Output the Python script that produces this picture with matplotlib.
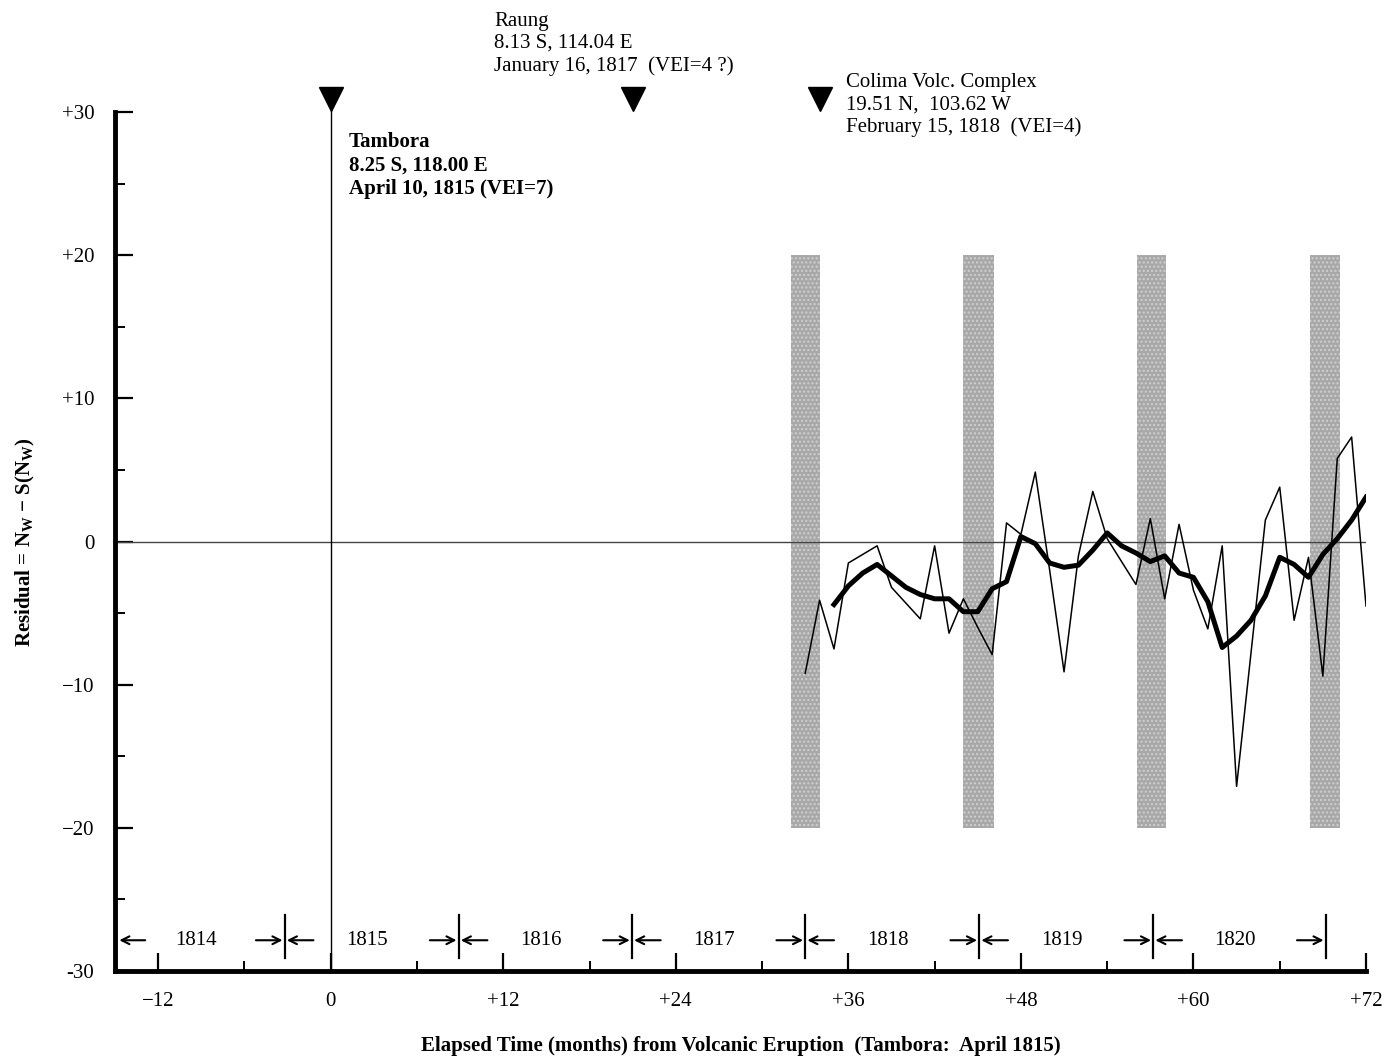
import matplotlib.pyplot as plt
from matplotlib.ticker import FixedLocator

plt.rcParams['font.family'] = ['Liberation Serif', 'DejaVu Serif']
plt.rcParams['mathtext.fontset'] = 'custom'
plt.rcParams['mathtext.rm'] = 'Liberation Serif'
plt.rcParams['mathtext.bf'] = 'Liberation Serif:bold'

# monthly residuals (thin line), months after Tambora eruption
months_raw = list(range(33, 73))
resid_raw = [-9.2, -4.1, -7.5, -1.5, -0.9, -0.3, -3.2, -4.3, -5.4, -0.3,
             -6.4, -4.0, -6.0, -7.9, 1.3, 0.5, 4.85, -2.0, -9.1, -1.0,
             3.5, 0.2, -1.4, -3.0, 1.6, -4.0, 1.2, -3.4, -6.1, -0.3,
             -17.1, -7.8, 1.5, 3.8, -5.5, -1.1, -9.4, 5.8, 7.3, -4.5]

# smoothed residuals (thick line)
months_smooth = list(range(35, 73))
resid_smooth = [-4.4, -3.1, -2.2, -1.6, -2.4, -3.2, -3.7, -4.0, -4.0, -4.9,
                -4.9, -3.3, -2.8, 0.35, -0.15, -1.5, -1.8, -1.65, -0.6, 0.6,
                -0.3, -0.8, -1.4, -1.0, -2.2, -2.5, -4.2, -7.4, -6.6, -5.5,
                -3.8, -1.1, -1.6, -2.5, -0.9, 0.2, 1.5, 3.1]

# shaded winter bands
band_start = [32.0, 44.0, 56.1, 68.1]
band_end = [34.0, 46.1, 58.1, 70.2]

# calendar year boundaries (months from eruption)
year_bounds = [-3.2, 8.9, 20.95, 33.0, 45.1, 57.2, 69.2]
year_names = ['1814', '1815', '1816', '1817', '1818', '1819', '1820']

# eruptions
erupt_month = [0.0, 21.0, 34.0]
erupt_text = ['Tambora\n8.25 S, 118.00 E\nApril 10, 1815 (VEI=7)',
              'Raung\n8.13 S, 114.04 E\nJanuary 16, 1817  (VEI=4 ?)',
              'Colima Volc. Complex\n19.51 N,  103.62 W\nFebruary 15, 1818  (VEI=4)']

fig = plt.figure(figsize=(13.84, 10.58), dpi=100)
ax = fig.add_axes([0.0831, 0.0822, 0.9039, 0.8119])
ax.set_xlim(-15, 72)
ax.set_ylim(-30, 30)

for s, e in zip(band_start, band_end):
    ax.fill_between([s, e], -20, 20, facecolor='#a8a8a8', edgecolor='#d0d0d0',
                    hatch='....', lw=0, zorder=1)

ax.axhline(0, color='#444444', lw=1.0, zorder=2)
ax.plot(months_raw, resid_raw, color='k', lw=1.1, zorder=3)
ax.plot(months_smooth, resid_smooth, color='k', lw=3.6, zorder=4,
        solid_joinstyle='round')

# Tambora vertical line and triangles
ax.plot([0, 0], [-30, 30.5], color='k', lw=1.0, clip_on=False, zorder=2)
ax.plot(erupt_month, [30.9] * 3, 'v', color='k', ms=17, clip_on=False,
        zorder=5)

ax.text(1.25, 28.6, erupt_text[0], fontsize=15, fontweight='bold',
        va='top', ha='left', linespacing=1.22)
ax.text(11.35, 37.0, erupt_text[1], fontsize=15, va='top', ha='left',
        linespacing=1.22)
ax.text(35.85, 32.7, erupt_text[2], fontsize=15, va='top', ha='left',
        linespacing=1.22)

# year strip along the bottom
ya = -27.85
arrow = dict(arrowstyle='->', lw=1.5, color='k', shrinkA=0, shrinkB=0,
             mutation_scale=14)
ax.annotate('', xy=(-14.7, ya), xytext=(-12.9, ya), arrowprops=arrow)
for i, b in enumerate(year_bounds):
    ax.plot([b, b], [-26.1, -29.1], color='k', lw=1.6)
    ax.annotate('', xy=(b - 0.15, ya), xytext=(b - 2.0, ya), arrowprops=arrow)
    if i < len(year_bounds) - 1:
        ax.annotate('', xy=(b + 0.15, ya), xytext=(b + 2.0, ya),
                    arrowprops=arrow)
edges = [-15] + year_bounds
for i, name in enumerate(year_names):
    mid = (edges[i] + edges[i + 1]) / 2 - 0.3
    ax.text(mid, ya, name, fontsize=15, ha='center', va='center')

# axes styling
for side in ['top', 'right']:
    ax.spines[side].set_visible(False)
ax.spines['left'].set_linewidth(3.5)
ax.spines['bottom'].set_linewidth(3.5)

ax.yaxis.set_major_locator(FixedLocator([-30, -20, -10, 0, 10, 20, 30]))
ax.yaxis.set_minor_locator(FixedLocator([-25, -15, -5, 5, 15, 25]))
ax.set_yticklabels(['-30', '\u221220', '\u221210', '0', '+10', '+20', '+30'])
ax.xaxis.set_major_locator(FixedLocator([-12, 0, 12, 24, 36, 48, 60, 72]))
ax.xaxis.set_minor_locator(FixedLocator([-6, 6, 18, 30, 42, 54, 66]))
ax.set_xticklabels(['\u221212', '0', '+12', '+24', '+36', '+48', '+60', '+72'])

ax.tick_params(which='major', direction='in', length=13, width=1.6,
               labelsize=15, pad=15)
ax.tick_params(which='minor', direction='in', length=7, width=1.4)

ax.set_ylabel('Residual = N$_\\mathbf{W}$ \u2212 S(N$_\\mathbf{W}$)',
              fontsize=15, fontweight='bold', labelpad=18)
ax.set_xlabel('Elapsed Time (months) from Volcanic Eruption  (Tambora:  April 1815)',
              fontsize=15, fontweight='bold', labelpad=18)

plt.savefig('out.png', dpi=100)
